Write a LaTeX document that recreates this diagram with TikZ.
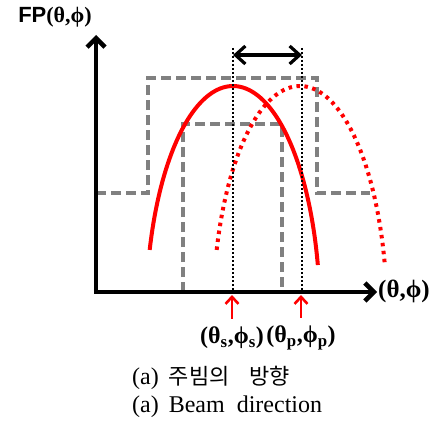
\documentclass[tikz,border=0pt]{standalone}
\usepackage{fontspec}
\setmainfont{Liberation Serif}
\newfontfamily\arialfont{Liberation Sans}
\newfontfamily\krfont{Noto Sans CJK KR}
\usepackage{tikz}
\usetikzlibrary{arrows.meta, positioning, calc}

\begin{document}
\begin{tikzpicture}[x=1pt, y=-1pt, >={Straight Barb[length=10pt, width=18pt]}]
        \useasboundingbox (0,0) rectangle (433,425);
        % Styles
        \tikzstyle{axis} = [draw, line width=4.5pt, -{Straight Barb[length=9pt, width=18pt]}]
        \tikzstyle{level} = [draw=gray, line width=3.8pt, dash pattern=on 10pt off 5pt]
        \tikzstyle{beam} = [draw=red, line width=4pt]
        \tikzstyle{shifted} = [draw=red, line width=4pt, dash pattern=on 3.5pt off 4.5pt]
        \tikzstyle{guide} = [draw, line width=2.4pt, dash pattern=on 2pt off 2pt]
        \tikzstyle{pointer} = [draw=red, line width=2.6pt, -{Straight Barb[length=7pt, width=13pt]}]
        \tikzstyle{angtext} = [inner sep=0pt, font=\bfseries\fontsize{24}{24}\selectfont]
        \tikzstyle{caption} = [inner sep=0pt, anchor=west, font=\fontsize{24}{24}\selectfont]

        % Coordinates
        \coordinate (origin) at (96,292);
        \coordinate (ytop) at (96,35);
        \coordinate (xend) at (377,292);
        \coordinate (main) at (233,48);
        \coordinate (steer) at (302,48);
        \coordinate (spanl) at (233,55);
        \coordinate (spanr) at (302,55);

        % Nodes
        \node[angtext, font=\bfseries\fontsize{22}{22}\selectfont] (fp) at (55,17) {{\arialfont FP}(θ,ϕ)};
        \node[angtext, font=\bfseries\fontsize{25}{25}\selectfont, anchor=west] (xlab) at (378,291) {(θ,ϕ)};
        \node[angtext] (sdir) at (232,338) {(θ\textsubscript{s},ϕ\textsubscript{s})};
        \node[angtext] (pdir) at (301,338) {(θ\textsubscript{p},ϕ\textsubscript{p})};
        \node[caption] (capkr) at (132,378) {(a)\hspace{10pt}{\krfont\fontsize{22}{22}\selectfont 주빔의\hspace{20pt}방향}};
        \node[caption] (capen) at (132,407) {(a)\hspace{10pt}Beam\hspace{12pt}direction};

        % Levels
        \draw[level] (96,193) -- (148,193) -- (148,78) -- (317,78) -- (317,193) -- (370,193);
        \draw[level] (183,292) -- (183,124) -- (282,124) -- (282,292);

        % Beams
        \draw[beam] plot[domain=163.3:12.8, samples=80, smooth] ({233+87*cos(\x)}, {316-230*sin(\x)});
        \draw[shifted] plot[domain=163.3:12.8, samples=80, smooth] ({300+87*cos(\x)}, {316-230*sin(\x)});

        % Paths
        \draw[guide] (main) -- (main |- origin);
        \draw[guide] (steer) -- (steer |- origin);
        \draw[<->, line width=3.2pt] (spanl) -- (spanr);
        \draw[axis] (origin) -- (ytop);
        \draw[axis] ([xshift=-2.25pt]origin) -- (xend);
        \draw[pointer] ([yshift=8pt]sdir.north) -- ([yshift=-3pt]sdir.north |- origin);
        \draw[pointer] ([yshift=8pt]pdir.north) -- ([yshift=-3pt]pdir.north |- origin);
    \end{tikzpicture}
\end{document}
